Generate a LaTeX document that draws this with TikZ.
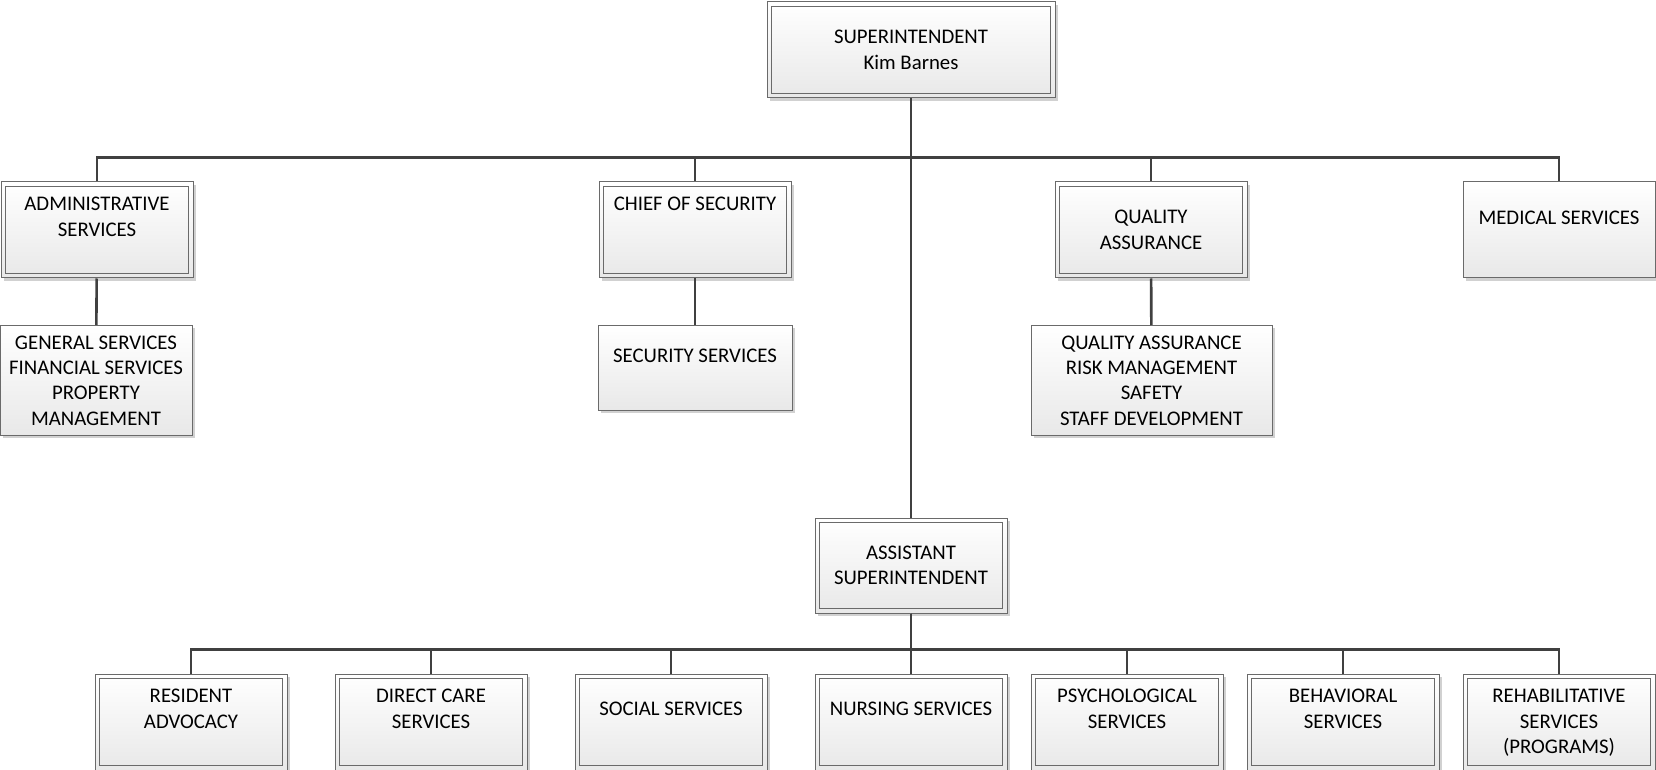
\documentclass[tikz,border=0pt]{standalone}
\usepackage{fontspec}
\setmainfont{Carlito}
\usepackage{tikz}
\usetikzlibrary{positioning,shadows,calc}
\usepackage{xcolor}
\definecolor{linegray}{HTML}{404040}
\definecolor{boxedge}{HTML}{6A6A6A}

\begin{document}
\begin{tikzpicture}[
  x=0.5pt,y=-0.5pt,
  unit/.style={draw=boxedge,line width=0.5pt,top color=white,bottom color=black!9,
               minimum width=96pt,minimum height=48pt,inner xsep=2pt,
               font=\fontsize{10.4}{12.7}\selectfont,align=center,
               drop shadow={shadow xshift=1.5pt,shadow yshift=-1.5pt,fill=black!18,opacity=1}},
  hang/.style 2 args={inner ysep=0pt,text height=#1,text depth=#2},
  inset/.style={draw=boxedge,line width=0.5pt},
  link/.style={draw=linegray,line width=1.3pt}
]
  \useasboundingbox (0,0) rectangle (1656,770);

  % top level
  \node[unit,minimum width=144pt](supt) at (911,50){SUPERINTENDENT\\Kim Barnes};
  \node[unit,hang={27.1pt}{20.9pt}](admin) at (97,230){ADMINISTRATIVE\\SERVICES};
  \node[unit,hang={14.4pt}{33.6pt}](chief) at (695,230){CHIEF OF SECURITY};
  \node[unit](qa) at (1151,230){QUALITY\\ASSURANCE};
  \node[unit,hang={21.1pt}{26.9pt}](med) at (1559,230){MEDICAL SERVICES};

  % sections
  \node[unit,minimum height=55pt](gen) at (96,380.5)
       {GENERAL SERVICES\\FINANCIAL SERVICES\\PROPERTY\\MANAGEMENT};
  \node[unit,minimum width=97pt,minimum height=42.5pt,hang={18.4pt}{24.1pt}](sec) at (695,368)
       {SECURITY SERVICES};
  \node[unit,minimum width=120.5pt,minimum height=55pt](qasub) at (1151.5,380.5)
       {QUALITY ASSURANCE\\RISK MANAGEMENT\\SAFETY\\STAFF DEVELOPMENT};

  \node[unit,minimum height=47.5pt](asst) at (911,565.5){ASSISTANT\\SUPERINTENDENT};

  % bottom row
  \node[unit,hang={27.1pt}{20.9pt}](res) at (191,722){RESIDENT\\ADVOCACY};
  \node[unit,hang={27.1pt}{20.9pt}](dcs) at (431,722){DIRECT CARE\\SERVICES};
  \node[unit,hang={20.6pt}{27.4pt}](soc) at (671,722){SOCIAL SERVICES};
  \node[unit,hang={20.6pt}{27.4pt}](nur) at (911,722){NURSING SERVICES};
  \node[unit,hang={27.1pt}{20.9pt}](psy) at (1127,722){PSYCHOLOGICAL\\SERVICES};
  \node[unit,hang={27.1pt}{20.9pt}](beh) at (1343,722){BEHAVIORAL\\SERVICES};
  \node[unit,hang={39.8pt}{8.2pt}](reh) at (1559,722){REHABILITATIVE\\SERVICES\\(PROGRAMS)};

  % double frames
  \foreach \n in {supt,admin,chief,qa,asst,res,dcs,soc,nur,psy,beh,reh}
    \draw[inset]([shift={(2.5pt,-2.5pt)}]\n.north west) rectangle
                ([shift={(-2.5pt,2.5pt)}]\n.south east);

  % connectors
  \foreach \c in {admin,chief,qa,med}
    \draw[link](supt.south) |- ([yshift=12pt]\c.north) -- (\c.north);
  \draw[link](supt.south) -- (asst.north);
  \draw[link](admin) -- (gen);
  \draw[link](chief) -- (sec);
  \draw[link](qa) -- (qasub);
  \foreach \c in {res,dcs,soc,nur,psy,beh,reh}
    \draw[link](asst.south) |- ([yshift=12pt]\c.north) -- (\c.north);
\end{tikzpicture}
\end{document}
